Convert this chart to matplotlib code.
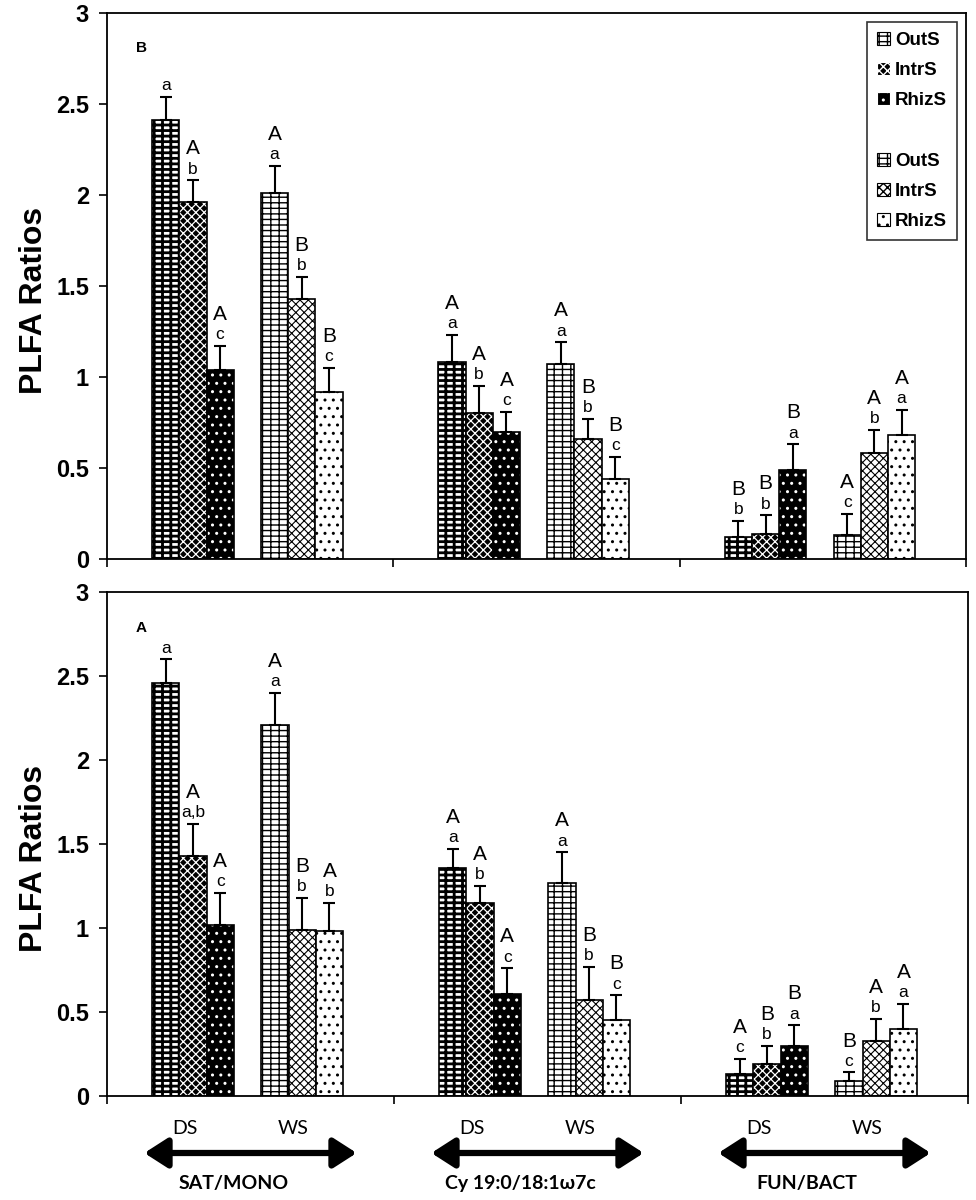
import numpy as np
import matplotlib.pyplot as plt
from matplotlib.patches import Patch

plt.rcParams['font.family'] = ['Liberation Sans', 'DejaVu Sans']

groups = ['SAT/MONO', 'Cy 19:0/18:1ω7c', 'FUN/BACT']
seasons = ['DS', 'WS']
soils = ['OutS', 'IntrS', 'RhizS']

# panel B (top) -- rows: group, cols: OutS, IntrS, RhizS
b_ds_mean = [[2.41, 1.96, 1.04], [1.08, 0.80, 0.70], [0.12, 0.14, 0.49]]
b_ds_err = [[0.13, 0.12, 0.13], [0.15, 0.15, 0.11], [0.09, 0.10, 0.14]]
b_ws_mean = [[2.01, 1.43, 0.92], [1.07, 0.66, 0.44], [0.13, 0.58, 0.68]]
b_ws_err = [[0.15, 0.12, 0.13], [0.12, 0.11, 0.12], [0.12, 0.13, 0.14]]
b_ds_caps = [['', 'A', 'A'], ['A', 'A', 'A'], ['B', 'B', 'B']]
b_ds_low = [['a', 'b', 'c'], ['a', 'b', 'c'], ['b', 'b', 'a']]
b_ws_caps = [['A', 'B', 'B'], ['A', 'B', 'B'], ['A', 'A', 'A']]
b_ws_low = [['a', 'b', 'c'], ['a', 'b', 'c'], ['c', 'b', 'a']]

# panel A (bottom)
a_ds_mean = [[2.46, 1.43, 1.02], [1.36, 1.15, 0.61], [0.13, 0.19, 0.30]]
a_ds_err = [[0.14, 0.19, 0.19], [0.11, 0.10, 0.15], [0.09, 0.11, 0.12]]
a_ws_mean = [[2.21, 0.99, 0.98], [1.27, 0.57, 0.45], [0.09, 0.33, 0.40]]
a_ws_err = [[0.19, 0.19, 0.17], [0.18, 0.20, 0.15], [0.05, 0.13, 0.15]]
a_ds_caps = [['', 'A', 'A'], ['A', 'A', 'A'], ['A', 'B', 'B']]
a_ds_low = [['a', 'a,b', 'c'], ['a', 'b', 'c'], ['c', 'b', 'a']]
a_ws_caps = [['A', 'B', 'A'], ['A', 'B', 'B'], ['B', 'A', 'A']]
a_ws_low = [['a', 'b', 'b'], ['a', 'b', 'c'], ['c', 'b', 'a']]

# (face, hatch colour, hatch, hatch linewidth)
styles = {
    'DS': [('white', 'black', '-++', 2.0), ('black', 'white', 'xxxx', 0.9), ('black', 'white', '..', 1.0)],
    'WS': [('white', 'black', '-++', 1.0), ('white', 'black', 'xxxx', 0.8), ('white', 'black', '..', 1.0)],
}

w = 0.095
offsets = [0.30, 0.68]


def hatched_bar(ax, x, h, st):
    face, hc, hatch, hlw = st
    with plt.rc_context({'hatch.linewidth': hlw}):
        bars = ax.bar(x, h, w, color=face, edgecolor=hc, hatch=hatch, linewidth=0)
        for b in bars:
            if hasattr(b, 'set_hatch_linewidth'):
                b.set_hatch_linewidth(hlw)
    ax.bar(x, h, w, fill=False, edgecolor='black', linewidth=1.2)


def draw_panel(ax, means, errs, caps, lows, letter):
    for s, season in enumerate(seasons):
        m = np.array(means[s])
        e = np.array(errs[s])
        for i in range(3):
            xs = np.arange(3) + offsets[s] + (i - 1) * w
            hatched_bar(ax, xs, m[:, i], styles[season][i])
            ax.errorbar(xs, m[:, i], yerr=[np.zeros(3), e[:, i]], fmt='none',
                        ecolor='black', elinewidth=1.5, capsize=4, capthick=1.5)
            for g in range(3):
                top = m[g, i] + e[g, i]
                ax.annotate(lows[s][g][i], (xs[g], top), xytext=(0, 4.8),
                            textcoords='offset points', ha='center', va='baseline',
                            fontsize=12.5)
                ax.annotate(caps[s][g][i], (xs[g], top), xytext=(0, 18.7),
                            textcoords='offset points', ha='center', va='baseline',
                            fontsize=15)
    ax.set_xlim(0, 3)
    ax.set_ylim(0, 3)
    ax.set_yticks(np.arange(0, 3.01, 0.5))
    ax.set_yticklabels(['{:g}'.format(v) for v in np.arange(0, 3.01, 0.5)],
                       fontsize=17, fontweight='bold')
    ax.set_xticks([0, 1, 2, 3])
    ax.set_xticklabels([])
    ax.tick_params(direction='out', length=6, width=1.2, pad=7)
    for sp in ax.spines.values():
        sp.set_linewidth(1.3)
    ax.text(0.04, 0.935 if letter == 'B' else 0.928, letter, transform=ax.transAxes,
            ha='center', va='center', fontsize=11, fontweight='bold')


fig = plt.figure(figsize=(9.76, 12), dpi=100)
ax_b = fig.add_axes([107 / 976, 1 - 559 / 1200, 859 / 976, 546 / 1200])
ax_a = fig.add_axes([107 / 976, 1 - 1096 / 1200, 861 / 976, 504 / 1200])

draw_panel(ax_b, [b_ds_mean, b_ws_mean], [b_ds_err, b_ws_err],
           [b_ds_caps, b_ws_caps], [b_ds_low, b_ws_low], 'B')
draw_panel(ax_a, [a_ds_mean, a_ws_mean], [a_ds_err, a_ws_err],
           [a_ds_caps, a_ws_caps], [a_ds_low, a_ws_low], 'A')

fig.text(34 / 976, 1 - 300 / 1200, 'PLFA Ratios', rotation=90, ha='center', va='center',
         fontsize=23, fontweight='bold')
fig.text(34 / 976, 1 - 858 / 1200, 'PLFA Ratios', rotation=90, ha='center', va='center',
         fontsize=23, fontweight='bold')

# legend (top panel only)
handles, labels = [], []
for season in seasons:
    for i, soil in enumerate(soils):
        face, hc, hatch, hlw = styles[season][i]
        handles.append(Patch(facecolor=face, edgecolor=hc, hatch=hatch, linewidth=0.8))
        labels.append(soil)
    if season == 'DS':
        handles.append(Patch(visible=False))
        labels.append(' ')
leg = ax_b.legend(handles, labels, loc='upper right',
                  prop={'weight': 'bold', 'size': 13.5}, frameon=True, fancybox=False,
                  edgecolor='black', handlelength=0.7, handleheight=0.7,
                  handletextpad=0.3, labelspacing=0.7, borderaxespad=0.5,
                  borderpad=0.5)
leg.get_frame().set_linewidth(1.2)

# season labels, arrows and group names below
lab_font = ['Lato', 'DejaVu Sans']
for g, name in enumerate(groups):
    for s, season in enumerate(seasons):
        ax_a.annotate(season, (g + offsets[s] - 0.03, 1 - 1128 / 1200),
                      xycoords=('data', 'figure fraction'), ha='center', va='center',
                      fontsize=14, family=lab_font)
    ax_a.annotate('', xy=(g + 0.13, 1 - 1153 / 1200), xytext=(g + 0.87, 1 - 1153 / 1200),
                  xycoords=('data', 'figure fraction'), textcoords=('data', 'figure fraction'),
                  arrowprops=dict(arrowstyle='<|-|>,head_length=0.7,head_width=0.45',
                                  lw=4.5, color='black', shrinkA=0, shrinkB=0,
                                  mutation_scale=20))
    ax_a.annotate(name, (g + 0.44, 1 - 1183 / 1200),
                  xycoords=('data', 'figure fraction'), ha='center', va='center',
                  fontsize=14, fontweight='bold', family=lab_font)

fig.savefig('out.png', dpi=100)
